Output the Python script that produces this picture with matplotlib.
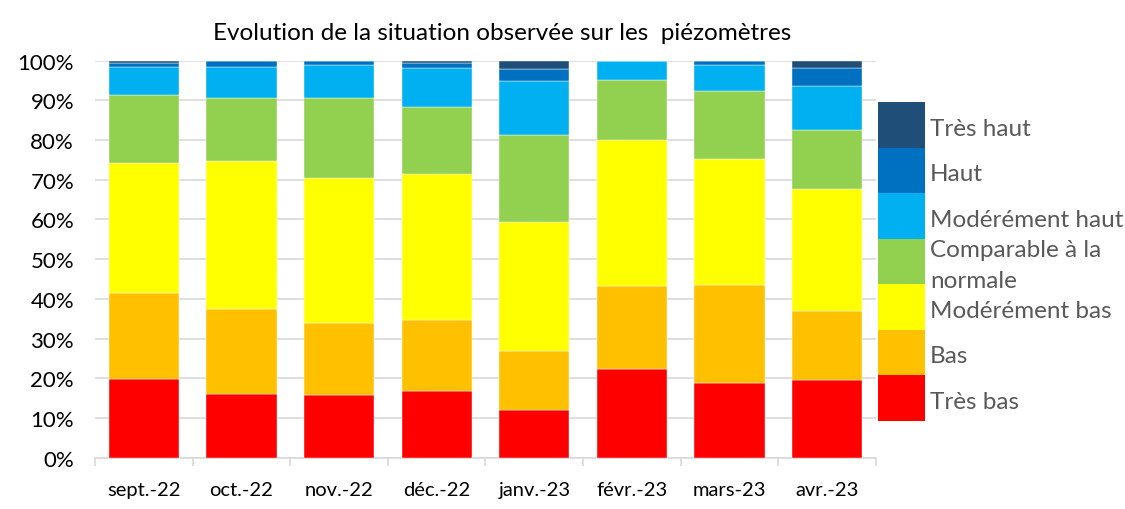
import numpy as np
import matplotlib
matplotlib.use('Agg')
import matplotlib.pyplot as plt
from matplotlib.patches import Rectangle
from matplotlib.ticker import PercentFormatter

plt.rcParams['font.family'] = ['Lato', 'DejaVu Sans']

months = ['sept.-22', 'oct.-22', 'nov.-22', 'déc.-22', 'janv.-23', 'févr.-23', 'mars-23', 'avr.-23']

# share of piezometers per class (%), bottom to top
tres_bas = [19.8, 16.0, 15.7, 16.7, 11.9, 22.3, 18.8, 19.6]
bas = [21.7, 21.4, 18.1, 18.0, 15.0, 20.9, 24.8, 17.4]
mod_bas = [32.7, 37.3, 36.5, 36.7, 32.4, 36.8, 31.6, 30.6]
comparable = [17.2, 15.9, 20.3, 17.0, 22.0, 15.1, 17.1, 14.9]
mod_haut = [7.0, 7.8, 8.3, 9.7, 13.5, 4.9, 6.6, 11.2]
haut = [0.9, 1.6, 1.1, 1.3, 3.1, 0.0, 1.1, 4.5]
tres_haut = [0.7, 0.0, 0.0, 0.6, 2.1, 0.0, 0.0, 1.8]

labels = ['Très bas', 'Bas', 'Modérément bas', 'Comparable à la\nnormale',
          'Modérément haut', 'Haut', 'Très haut']
colors = ['#FF0000', '#FFC000', '#FFFF00', '#92D050', '#00B0F0', '#0070C0', '#1F4E79']
series = [tres_bas, bas, mod_bas, comparable, mod_haut, haut, tres_haut]

fig = plt.figure(figsize=(11.25, 5.1), dpi=100)
ax = fig.add_axes([0.0844, 0.1006, 0.6943, 0.7788])

x = np.arange(len(months))
bottom = np.zeros(len(months))
for vals, col, lab in zip(series, colors, labels):
    v = np.array(vals) / 100.0
    ax.bar(x, v, bottom=bottom, width=0.72, color=col, edgecolor='white',
           linewidth=0.3, label=lab, zorder=3)
    bottom += v

ax.set_xlim(-0.5, len(months) - 0.5)
ax.set_ylim(0, 1.0)
ax.set_yticks(np.arange(0, 1.01, 0.1))
ax.yaxis.set_major_formatter(PercentFormatter(1.0, decimals=0))
ax.grid(axis='y', color='#D9D9D9', linewidth=1.2, zorder=0)
ax.set_axisbelow(True)

for s in ['top', 'right', 'left']:
    ax.spines[s].set_visible(False)
ax.spines['bottom'].set_color('#D9D9D9')
ax.spines['bottom'].set_linewidth(1.2)

ax.set_xticks(x)
ax.set_xticklabels(months)
ax.set_xticks(np.arange(-0.5, len(months), 1.0), minor=True)
ax.tick_params(axis='x', which='major', length=0, labelsize=14.5, pad=17, colors='black')
ax.tick_params(axis='x', which='minor', length=6, width=1.2, color='#D9D9D9')
ax.tick_params(axis='y', length=0, labelsize=16, pad=15, colors='black')

fig.text(0.446, 0.934, 'Evolution de la situation observée sur les  piézomètres',
         ha='center', va='center', fontsize=17.5)

# legend drawn as stacked colour blocks, top entry first
lx, lw = 878 / 1125, 47 / 1125
top_px, step_px = 103.3, 45.5
for i, (col, lab) in enumerate(zip(colors[::-1], labels[::-1])):
    y0 = 1 - (top_px + (i + 1) * step_px) / 510
    fig.patches.append(Rectangle((lx, y0), lw, step_px / 510, transform=fig.transFigure,
                                 facecolor=col, edgecolor='none'))
    fig.text(lx + lw + 5 / 1125, y0 + step_px / 510 / 2 - 0.006, lab, ha='left', va='center',
             fontsize=17.5, color='#595959', linespacing=1.6)

fig.savefig('out.png', dpi=100)
